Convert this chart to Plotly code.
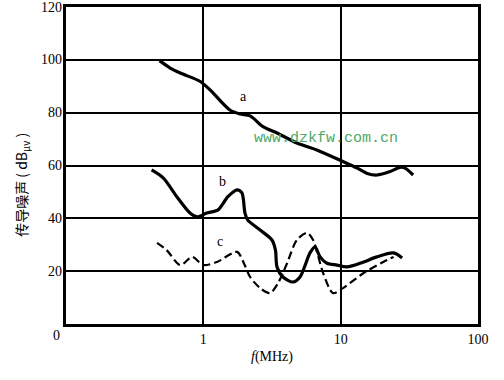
import math
import plotly.graph_objects as go

# Curve a
a_f = [0.48, 0.57, 0.68, 0.95, 1.12, 1.56, 1.85, 2.19, 2.72, 3.44, 4.8, 6.7, 10.4, 13.2, 15.6, 18.4, 22.9, 27, 29.4, 33.7]
a_v = [99.7, 97, 95, 91.8, 88.6, 81, 79.5, 78.8, 74.7, 72.3, 68.5, 65.9, 61.5, 59, 57, 56.4, 57.7, 59.3, 59, 56.4]
# Curve b
b_f = [0.42, 0.51, 0.645, 0.8, 0.9, 1.06, 1.28, 1.51, 1.76, 1.91, 2.01, 2.1, 2.59, 3.16, 3.35, 3.44, 3.8, 4.5, 5.06, 5.98, 6.5, 7.08, 7.95, 9.4, 11.1, 14.7, 18.3, 24.3, 28]
b_v = [58.3, 55.3, 48, 42, 40.6, 42, 43.2, 48.2, 50.8, 49.6, 42, 39.4, 35.6, 31.8, 28, 21.6, 17.8, 15.9, 17.8, 26.9, 29.2, 25.4, 23, 22.3, 21.6, 23.5, 25.4, 26.9, 25]
# Curve c
c_f = [0.46, 0.54, 0.68, 0.83, 1.0, 1.26, 1.76, 2.0, 2.19, 2.59, 3.06, 3.5, 4.07, 4.8, 5.7, 6.3, 7.45, 8.8, 10.4, 14.7, 20.4, 24.3]
c_v = [30.7, 28, 22.3, 25.4, 22.3, 23.5, 27.3, 22.3, 17.8, 13.6, 11.7, 15.5, 23, 31.8, 34.5, 31.8, 19.3, 11.7, 13.6, 19.3, 23.5, 25.4]

x_ticks = [1, 10, 100]
x_tick_text = ["1", "10", "100"]
y_ticks = [20, 40, 60, 80, 100, 120]
y_tick_text = ["20", "40", "60", "80", "100", "120"]

curve_labels = ["a", "b", "c"]
label_f = [1.95, 1.37, 1.32]
label_v = [86, 53.8, 31.4]

serif = "Liberation Serif"

fig = go.Figure()
fig.add_trace(go.Scatter(x=a_f, y=a_v, mode="lines", line=dict(color="black", width=3.2, shape="spline", smoothing=0.8), showlegend=False))
fig.add_trace(go.Scatter(x=b_f, y=b_v, mode="lines", line=dict(color="black", width=3.2, shape="spline", smoothing=0.8), showlegend=False))
fig.add_trace(go.Scatter(x=c_f, y=c_v, mode="lines", line=dict(color="black", width=2.2, shape="spline", smoothing=0.8, dash="8px,4px"), showlegend=False))

for t, fx, vy in zip(curve_labels, label_f, label_v):
    fig.add_annotation(text=t, x=math.log10(fx), y=vy, xref="x", yref="y", showarrow=False,
                       font=dict(family=serif, size=14, color="black"))

# y tick labels drawn as annotations so the top one ("120") is not dropped
for v, t in zip(y_ticks, y_tick_text):
    fig.add_annotation(text=t, x=0, y=v, xref="paper", yref="y", xanchor="right", yanchor="middle",
                       xshift=-2, showarrow=False, font=dict(family=serif, size=14, color="black"))

fig.add_annotation(text="www.dzkfw.com.cn", x=0.63, y=0.585, xref="paper", yref="paper",
                   showarrow=False, font=dict(family="Liberation Mono", size=15, color="#4fa86a"))
fig.add_annotation(text="0", x=0, y=0, xref="paper", yref="paper", xanchor="right", yanchor="top",
                   xshift=-4, yshift=-2, showarrow=False,
                   font=dict(family=serif, size=14, color="black"))
fig.add_annotation(text="传导噪声 ( dB<sub>μv</sub> )", x=-0.14, y=0.44, xref="paper", yref="paper",
                   textangle=-90, showarrow=False,
                   font=dict(family="Noto Sans CJK SC, Liberation Serif", size=14, color="black"))

fig.update_layout(
    width=504, height=380,
    margin=dict(l=66, r=26, t=7, b=56),
    paper_bgcolor="white", plot_bgcolor="white",
    font=dict(family=serif, size=14, color="black"),
    xaxis=dict(type="log", range=[-1, 2], tickvals=x_ticks, ticktext=x_tick_text, automargin=False,
               showgrid=True, gridcolor="black", gridwidth=2, zeroline=False,
               showline=True, linecolor="black", linewidth=2.5, mirror=True, ticks="",
               tickfont=dict(family=serif, size=14, color="black"),
               title=dict(text="<i>f</i>(MHz)", font=dict(family=serif, size=14, color="black"), standoff=6)),
    yaxis=dict(range=[0, 120], tickvals=y_ticks, showticklabels=False, automargin=False,
               showgrid=True, gridcolor="black", gridwidth=2, zeroline=False,
               showline=True, linecolor="black", linewidth=2.5, mirror=True, ticks=""),
)

fig.write_html("out.html", config={"displayModeBar": False},
               post_script="document.body.style.margin='0';")
